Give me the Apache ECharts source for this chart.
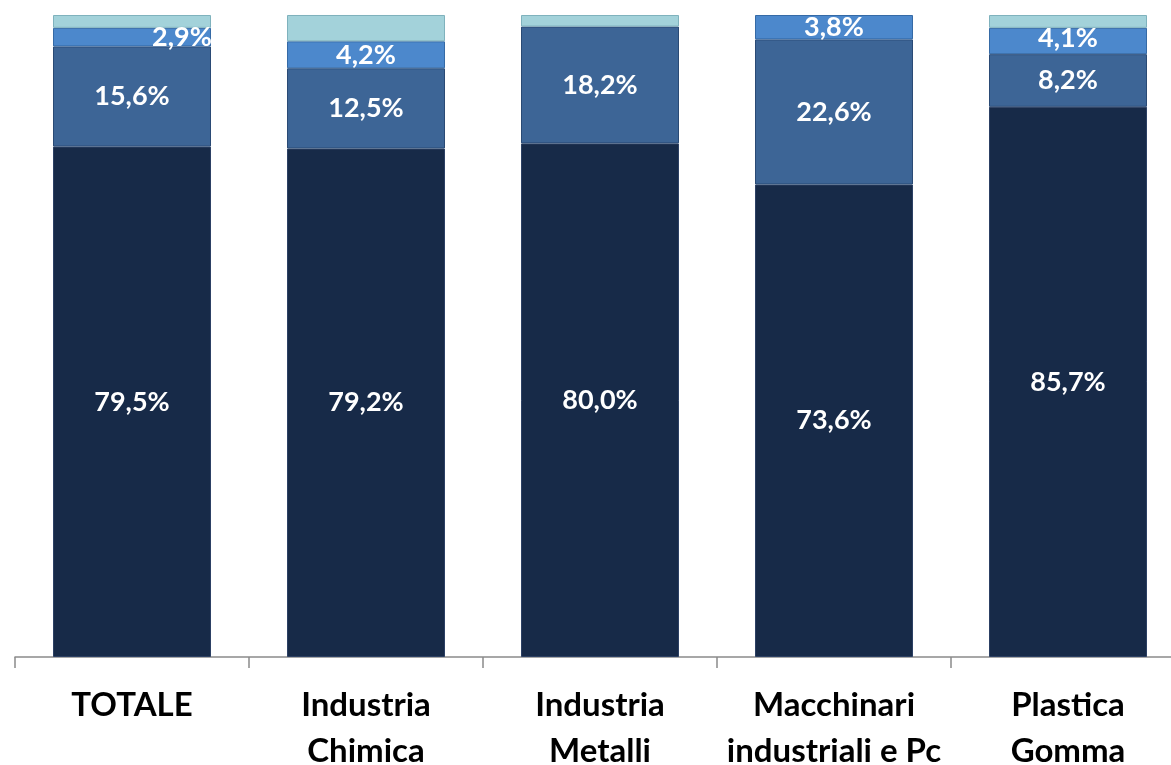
<!DOCTYPE html>
<html>
<head>
    <meta charset="utf-8">
    <title>Stacked Bar</title>
    <script src="https://cdn.jsdelivr.net/npm/echarts@6/dist/echarts.min.js"></script>
    <style>
        body { margin: 0; overflow: hidden; background: #fff; }
    </style>
</head>
<body>
    <div id="main" style="width: 1171px;height:765px;"></div>
    <script type="text/javascript">
        var categories = ["TOTALE", "Industria\nChimica", "Industria\nMetalli", "Macchinari\nindustriali e Pc", "Plastica\nGomma"];

        var serieBase = [79.5, 79.2, 80.0, 73.6, 85.7];
        var serieMedia = [15.6, 12.5, 18.2, 22.6, 8.2];
        var serieChiara = [2.9, 4.2, null, 3.8, 4.1];
        var serieResto = [2.0, 4.1, 1.8, null, 2.0];

        var myChart = echarts.init(document.getElementById('main'));

        function etichetta(p) {
            if (p.value == null || p.value === 0) return '';
            return p.value.toFixed(1).replace('.', ',') + '%';
        }

        var labelStyle = {
            show: true,
            position: 'inside',
            color: '#fff',
            fontFamily: 'Lato',
            fontWeight: 'bold',
            fontSize: 27,
            formatter: etichetta
        };

        // the 2,9% label sits off to the right in the original
        var chiaraData = serieChiara.map(function (v, i) {
            if (i === 0) return { value: v, label: { offset: [50, 0] } };
            if (i === 4) return { value: v, label: { offset: [0, -3] } };
            return v;
        });

        var option = {
            animation: false,
            grid: { left: 15, right: -14, top: 15, bottom: 108, outerBoundsMode: 'none', containLabel: false },
            xAxis: {
                type: 'category',
                data: categories,
                axisLine: { lineStyle: { color: '#8a8a8a', width: 1.5 } },
                axisTick: { show: true, length: 11, lineStyle: { color: '#8a8a8a', width: 1.5 } },
                axisLabel: {
                    interval: 0,
                    margin: 25,
                    color: '#000',
                    fontFamily: 'Lato',
                    fontWeight: 'bold',
                    fontSize: 33,
                    lineHeight: 46
                }
            },
            yAxis: {
                type: 'value',
                min: 0,
                max: 100,
                show: false
            },
            series: [
                {
                    name: 'base', type: 'bar', stack: 'tot', data: serieBase,
                    barWidth: 158,
                    itemStyle: { color: '#172a48', borderColor: '#2c4064', borderWidth: 1 },
                    label: labelStyle
                },
                {
                    name: 'media', type: 'bar', stack: 'tot', data: serieMedia,
                    itemStyle: { color: '#3d6596', borderColor: '#2a4a75', borderWidth: 1 },
                    label: labelStyle
                },
                {
                    name: 'chiara', type: 'bar', stack: 'tot', data: chiaraData,
                    itemStyle: { color: '#4c88cc', borderColor: '#356aa6', borderWidth: 1 },
                    label: labelStyle
                },
                {
                    name: 'resto', type: 'bar', stack: 'tot', data: serieResto,
                    itemStyle: { color: '#a3d2da', borderColor: '#7fb2bd', borderWidth: 1 },
                    label: { show: false }
                }
            ]
        };
        myChart.setOption(option);
    </script>
</body>
</html>
